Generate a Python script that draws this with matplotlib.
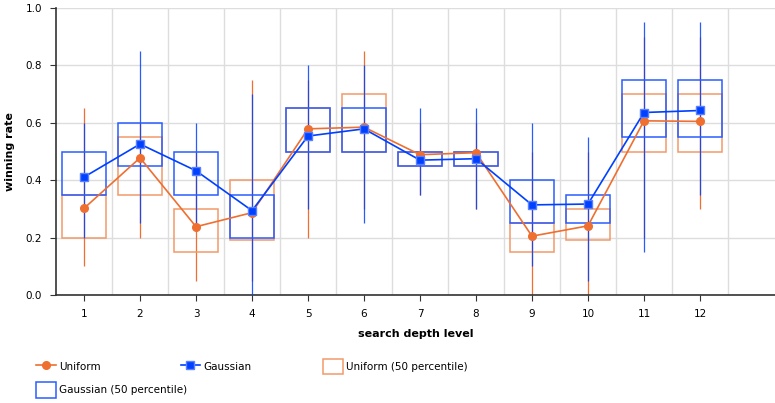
import numpy as np
import matplotlib
matplotlib.use("Agg")
import matplotlib.pyplot as plt

# search depth levels
levels = np.arange(1, 13)

# mean winning rate per level
uniform_mean = [0.302, 0.478, 0.238, 0.287, 0.579, 0.585, 0.489, 0.496, 0.205, 0.241, 0.607, 0.605]
gauss_mean = [0.411, 0.526, 0.433, 0.294, 0.554, 0.579, 0.470, 0.475, 0.314, 0.317, 0.636, 0.643]

# 50 percentile boxes (lower / upper quartile)
uniform_q1 = [0.20, 0.35, 0.15, 0.19, 0.50, 0.50, 0.45, 0.45, 0.15, 0.19, 0.50, 0.50]
uniform_q3 = [0.35, 0.55, 0.30, 0.40, 0.65, 0.70, 0.50, 0.50, 0.25, 0.30, 0.70, 0.70]
gauss_q1 = [0.35, 0.45, 0.35, 0.20, 0.50, 0.50, 0.45, 0.45, 0.25, 0.25, 0.55, 0.55]
gauss_q3 = [0.50, 0.60, 0.50, 0.35, 0.65, 0.65, 0.50, 0.50, 0.40, 0.35, 0.75, 0.75]

# whisker ranges (min / max)
uniform_lo = [0.10, 0.20, 0.05, 0.05, 0.20, 0.30, 0.35, 0.30, 0.00, 0.00, 0.20, 0.30]
uniform_hi = [0.65, 0.60, 0.50, 0.75, 0.75, 0.85, 0.60, 0.60, 0.50, 0.50, 0.90, 0.90]
gauss_lo = [0.20, 0.25, 0.25, 0.00, 0.30, 0.25, 0.35, 0.30, 0.10, 0.05, 0.15, 0.35]
gauss_hi = [0.60, 0.85, 0.60, 0.70, 0.80, 0.80, 0.65, 0.65, 0.60, 0.55, 0.95, 0.95]

ORANGE = "#ee6f30"
ORANGE_BOX = "#f29a68"
BLUE = "#0040ff"
BLUE_BOX = "#2a5cff"

plt.rcParams["font.family"] = "DejaVu Sans"
plt.rcParams["font.size"] = 7.5

fig = plt.figure(figsize=(7.75, 4.03), dpi=100)
ax = fig.add_axes([0.0723, 0.268, 0.9277, 0.712])

box_w = 0.8

# uniform boxes and whiskers
ax.vlines(levels, uniform_lo, uniform_hi, color=ORANGE, lw=0.9, zorder=2)
ub = ax.bar(levels, np.subtract(uniform_q3, uniform_q1), bottom=uniform_q1, width=box_w,
            fill=False, edgecolor=ORANGE_BOX, lw=1.1, zorder=3, label="Uniform (50 percentile)")

# gaussian boxes and whiskers
ax.vlines(levels, gauss_lo, gauss_hi, color=BLUE, lw=0.9, alpha=0.85, zorder=4)
gb = ax.bar(levels, np.subtract(gauss_q3, gauss_q1), bottom=gauss_q1, width=box_w,
            fill=False, edgecolor=BLUE_BOX, lw=1.1, zorder=5, label="Gaussian (50 percentile)")

# mean lines
ul, = ax.plot(levels, uniform_mean, color=ORANGE, lw=1.2, marker="o", ms=5.5,
              mec=ORANGE, mfc=ORANGE, zorder=6, label="Uniform")
gl, = ax.plot(levels, gauss_mean, color=BLUE, lw=1.2, marker="s", ms=5.5,
              mec="#5a80ff", mfc=BLUE, zorder=7, label="Gaussian")

ax.set_xlim(0.5, 13.34)
ax.set_ylim(0, 1.0)
ax.set_xticks(levels)
ax.set_xticklabels([str(v) for v in levels])
ax.set_yticks(np.arange(0, 1.01, 0.2))
ax.set_yticklabels(["%.1f" % v for v in np.arange(0, 1.01, 0.2)])
ax.set_xticks(np.arange(1.5, 13.0, 1.0), minor=True)
ax.grid(True, which="minor", axis="x", color="#dddddd", lw=1)
ax.grid(True, which="major", axis="y", color="#dddddd", lw=1)
ax.set_axisbelow(True)
ax.tick_params(axis="x", which="minor", length=0)
ax.tick_params(axis="both", which="major", length=4, width=0.8, color="#333333", pad=6)

for s in ["top", "right"]:
    ax.spines[s].set_visible(False)
for s in ["left", "bottom"]:
    ax.spines[s].set_color("#333333")
    ax.spines[s].set_linewidth(1.2)

ax.set_xlabel("search depth level", fontweight="bold", fontsize=8, labelpad=7)
ax.set_ylabel("winning rate", fontweight="bold", fontsize=8, labelpad=8)

# legend entries placed individually to match layout
positions = [(ul, 0.047, 0.09), (gl, 0.233, 0.09), (ub, 0.417, 0.09), (gb, 0.047, 0.032)]
for h, x, y in positions:
    fig.legend(handles=[h], loc="center left", bbox_to_anchor=(x, y), frameon=False,
               handlelength=1.9, handleheight=1.9, handletextpad=0.3,
               fontsize=7.5, borderaxespad=0, borderpad=0)

plt.savefig("out.png", dpi=100)
